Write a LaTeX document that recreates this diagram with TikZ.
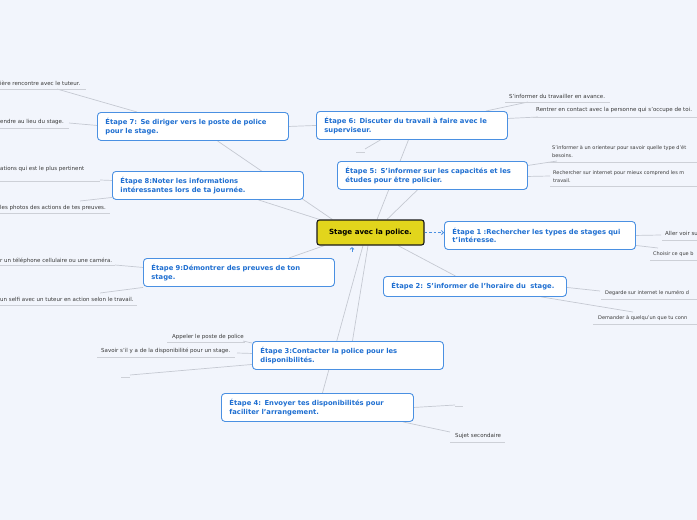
\documentclass[tikz,border=0pt]{standalone}
\usepackage{fontspec}
\setmainfont{DejaVu Sans}
\usetikzlibrary{arrows.meta,calc}
\pgfdeclarelayer{background}
\pgfdeclarelayer{canvas}
\pgfsetlayers{canvas,background,main}
\definecolor{bg}{HTML}{F2F5FC}
\definecolor{stepborder}{HTML}{4A90E2}
\definecolor{steptext}{HTML}{1F6FD1}
\definecolor{centerfill}{HTML}{E2D51C}
\definecolor{linkgray}{HTML}{C5C9D2}
\definecolor{subtext}{HTML}{3A3A3A}
\definecolor{ulgray}{HTML}{CDD0D7}
\begin{document}
\begin{tikzpicture}[x=1pt,y=-1pt,
  stepbox/.style={draw=stepborder, line width=0.9pt, fill=white, rounded corners=3.5pt,
    font=\fontsize{6.8}{8.4}\selectfont\bfseries, text=steptext, align=left,
    inner xsep=8pt, inner ysep=0pt, anchor=north west, minimum height=28pt},
  centerbox/.style={draw=black!90, line width=1.1pt, fill=centerfill, rounded corners=2.5pt,
    font=\fontsize{7.1}{8}\selectfont\bfseries, text=black, minimum width=107pt, minimum height=25pt, inner sep=0pt},
  sub/.style={font=\fontsize{5.5}{8}\selectfont, text=subtext, inner sep=0pt, align=left},
  subsmall/.style={sub, font=\fontsize{5}{8}\selectfont},
  uline/.style={draw=ulgray, line width=0.8pt},
  link/.style={draw=linkgray, line width=0.7pt},
  rel/.style={draw=stepborder, line width=0.8pt, dash pattern=on 2.5pt off 2pt},
]
\begin{pgfonlayer}{canvas}
\fill[bg] (0,0) rectangle (697,520);
\end{pgfonlayer}
\useasboundingbox (0,0) rectangle (697,520);

% Center node
\node[centerbox] (C) at (370.5,232.5) {Stage avec la police.};

% Step nodes
\node[stepbox, minimum width=191pt, text width=175pt] (S1) at (444,221) {Étape 1 :Rechercher les types de stages qui\\t'intéresse.};
\node[stepbox, minimum width=183pt, text width=167pt, minimum height=20pt] (S2) at (383,276) {Étape 2: S'informer de l'horaire du\ \ stage.};
\node[stepbox, minimum width=191pt, text width=175pt] (S3) at (252,341) {Étape 3:Contacter la police pour les\\disponibilités.};
\node[stepbox, minimum width=192pt, text width=176pt] (S4) at (221,393) {Étape 4: Envoyer tes disponibilités pour\\faciliter l'arrangement.};
\node[stepbox, minimum width=190pt, text width=174pt] (S5) at (337,161) {Étape 5: S'informer sur les capacités et les\\études pour être policier.};
\node[stepbox, minimum width=191pt, text width=175pt] (S6) at (316,111) {Étape 6: Discuter du travail à faire avec le\\superviseur.};
\node[stepbox, minimum width=191pt, text width=175pt] (S7) at (97,112) {Étape 7: Se diriger vers le poste de police\\pour le stage.};
\node[stepbox, minimum width=191pt, text width=175pt] (S8) at (112,171) {Étape 8:Noter les informations\\intéressantes lors de ta journée.};
\node[stepbox, minimum width=191pt, text width=175pt] (S9) at (143,258) {Étape 9:Démontrer des preuves de ton\\stage.};

% Subtopic texts
\node[sub, anchor=base west] (t7a) at (0,85.8) {ière rencontre avec le tuteur.};
\node[sub, anchor=base west] (t7b) at (0,123.8) {endre au lieu du stage.};
\node[sub, anchor=base west] (t8a) at (0,170.8) {ations qui est le plus pertinent};
\node[sub, anchor=base west] (t8b) at (0,209.2) {les photos des actions de tes preuves.};
\node[sub, anchor=base west] (t9a) at (0,262.2) {r un téléphone cellulaire ou une caméra.};
\node[sub, anchor=base west] (t9b) at (0,301.7) {un selfi avec un tuteur en action selon le travail.};
\node[sub, anchor=base west] (t1a) at (665,235.7) {Aller voir su};
\node[subsmall, anchor=base west] (t1b) at (653,255.7) {Choisir ce que b};
\node[subsmall, anchor=base west] (t2a) at (605,294.7) {Degarde sur internet le numéro d};
\node[subsmall, anchor=base west] (t2b) at (598,319.7) {Demander à quelqu'un que tu conn};
\node[subsmall, anchor=north west] (t5a) at (552,145.6) {S'informer à un orienteur pour savoir quelle type d'ét\\besoins.};
\node[subsmall, anchor=north west] (t5b) at (553,170.6) {Rechercher sur internet pour mieux comprend les m\\travail.};
\node[sub, anchor=base west] (t6a) at (509,98.8) {S'informer du travailler en avance.};
\node[sub, anchor=base west] (t6b) at (536,111.8) {Rentrer en contact avec la personne qui s'occupe de toi.};
\node[sub, anchor=base west] (t3a) at (172,338.8) {Appeler le poste de police};
\node[sub, anchor=base west] (t3b) at (101,352.8) {Savoir s'il y a de la disponibilité pour un stage.};
\node[sub, anchor=base west] (t4b) at (455,437.8) {Sujet secondaire};

% Underlines (part of subtopic shapes)
\draw[uline] (0,89) -- (86,89);
\draw[uline] (0,128) -- (69,128);
\draw[uline] (0,181) -- (100,181);
\draw[uline] (0,213) -- (110,213);
\draw[uline] (0,265.5) -- (115,265.5);
\draw[uline] (0,305) -- (137,305);
\draw[uline] (662,240) -- (697,240);
\draw[uline] (650,260) -- (697,260);
\draw[uline] (601,299) -- (697,299);
\draw[uline] (593,324) -- (697,324);
\draw[uline] (548,162) -- (697,162);
\draw[uline] (550,186) -- (697,186);
\draw[uline] (505,102) -- (610,102);
\draw[uline] (533,117) -- (697,117);
\draw[uline] (356,152) -- (365,152);
\draw[uline] (167,342.5) -- (245,342.5);
\draw[uline] (97,357) -- (235,357);
\draw[uline] (121,377) -- (130,377);
\draw[uline] (455,406) -- (463,406);
\draw[uline] (450,442) -- (505,442);

% Free-end coordinates
\coordinate (u7a) at (57,89);
\coordinate (u7b) at (69,123);
\coordinate (u8a) at (100,180);
\coordinate (u8b) at (80,201);
\coordinate (u9a) at (115,265);
\coordinate (u9b) at (100,293);
\coordinate (u1a) at (661,235);
\coordinate (u1b) at (658,248);
\coordinate (u2a) at (600,291);
\coordinate (u2b) at (633,312);
\coordinate (u3a) at (243,341);
\coordinate (u3b) at (237,353);
\coordinate (u3c) at (130,375);
\coordinate (u4a) at (455,405);
\coordinate (u4b) at (450,432);
\coordinate (u5a) at (557,161);
\coordinate (u5b) at (550,176);
\coordinate (u6a) at (528,102);
\coordinate (u6b) at (538,117);
\coordinate (u6c) at (365,149);

% ---------- connectors, behind nodes ----------
\begin{pgfonlayer}{background}
% center to steps
\draw[link] ([xshift=27.5pt]C.south) -- ([xshift=-19.5pt]S2.north);
\draw[link] ([xshift=-2.5pt]C.south) -- ([xshift=4.5pt]S3.north);
\draw[link] ([xshift=-7.5pt]C.south) -- ([xshift=5pt]S4.north);
\draw[link] ([xshift=16.5pt]C.north) -- ([xshift=-15pt]S5.south);
\draw[link] ([xshift=6.5pt]C.north) -- ([xshift=-3.5pt]S6.south);
\draw[link] ([xshift=16pt]C.north west) -- ([xshift=24.5pt]S7.south);
\draw[link] ([xshift=3pt]C.north west) -- ([xshift=50.5pt]S8.south);
\draw[link] ([xshift=8pt]C.south west) -- ([xshift=-46pt]S9.north east);
\draw[link] (S7.east) -- (S6.west);
% steps to subtopics
\draw[link] ([xshift=40pt]S7.north west) -- (u7a);
\draw[link] ([yshift=1pt]S7.west) -- (u7b);
\draw[link] ([yshift=5pt]S8.west) -- (u8a);
\draw[link] ([yshift=-12pt]S8.west) -- (u8b);
\draw[link] ([yshift=5pt]S9.west) -- (u9a);
\draw[link] ([yshift=-15pt]S9.west) -- (u9b);
\draw[link] (S1.east) -- (u1a);
\draw[link] ([yshift=-10pt]S1.east) -- (u1b);
\draw[link] ([yshift=-1pt]S2.east) -- (u2a);
\draw[link] ([xshift=66.5pt]S2.south) -- (u2b);
\draw[link] ([yshift=-2pt]S3.north west) -- (u3a);
\draw[link] ([yshift=2pt]S3.west) -- (u3b);
\draw[link] ([yshift=-9pt]S3.west) -- (u3c);
\draw[link] (S4.east) -- (u4a);
\draw[link] ([xshift=-11pt]S4.south east) -- (u4b);
\draw[link] ([yshift=10pt]S5.east) -- (u5a);
\draw[link] ([yshift=-1pt]S5.east) -- (u5b);
\draw[link] ([xshift=-22pt]S6.north east) -- (u6a);
\draw[link] ([yshift=7pt]S6.east) -- (u6b);
\draw[link] ([xshift=-31.5pt]S6.south) -- (u6c);
\end{pgfonlayer}

% relation: center to step 1
\draw[rel, -{Straight Barb[length=2pt,width=4pt]}] (C.east) -- (C.east -| S1.west);
% small relation marker below the center
\draw[stepborder, line width=0.8pt, -{Straight Barb[length=1.8pt,width=4pt]}] ([xshift=-18.5pt,yshift=-6pt]C.south) -- ([xshift=-18.5pt,yshift=-1.5pt]C.south);
\end{tikzpicture}
\end{document}
